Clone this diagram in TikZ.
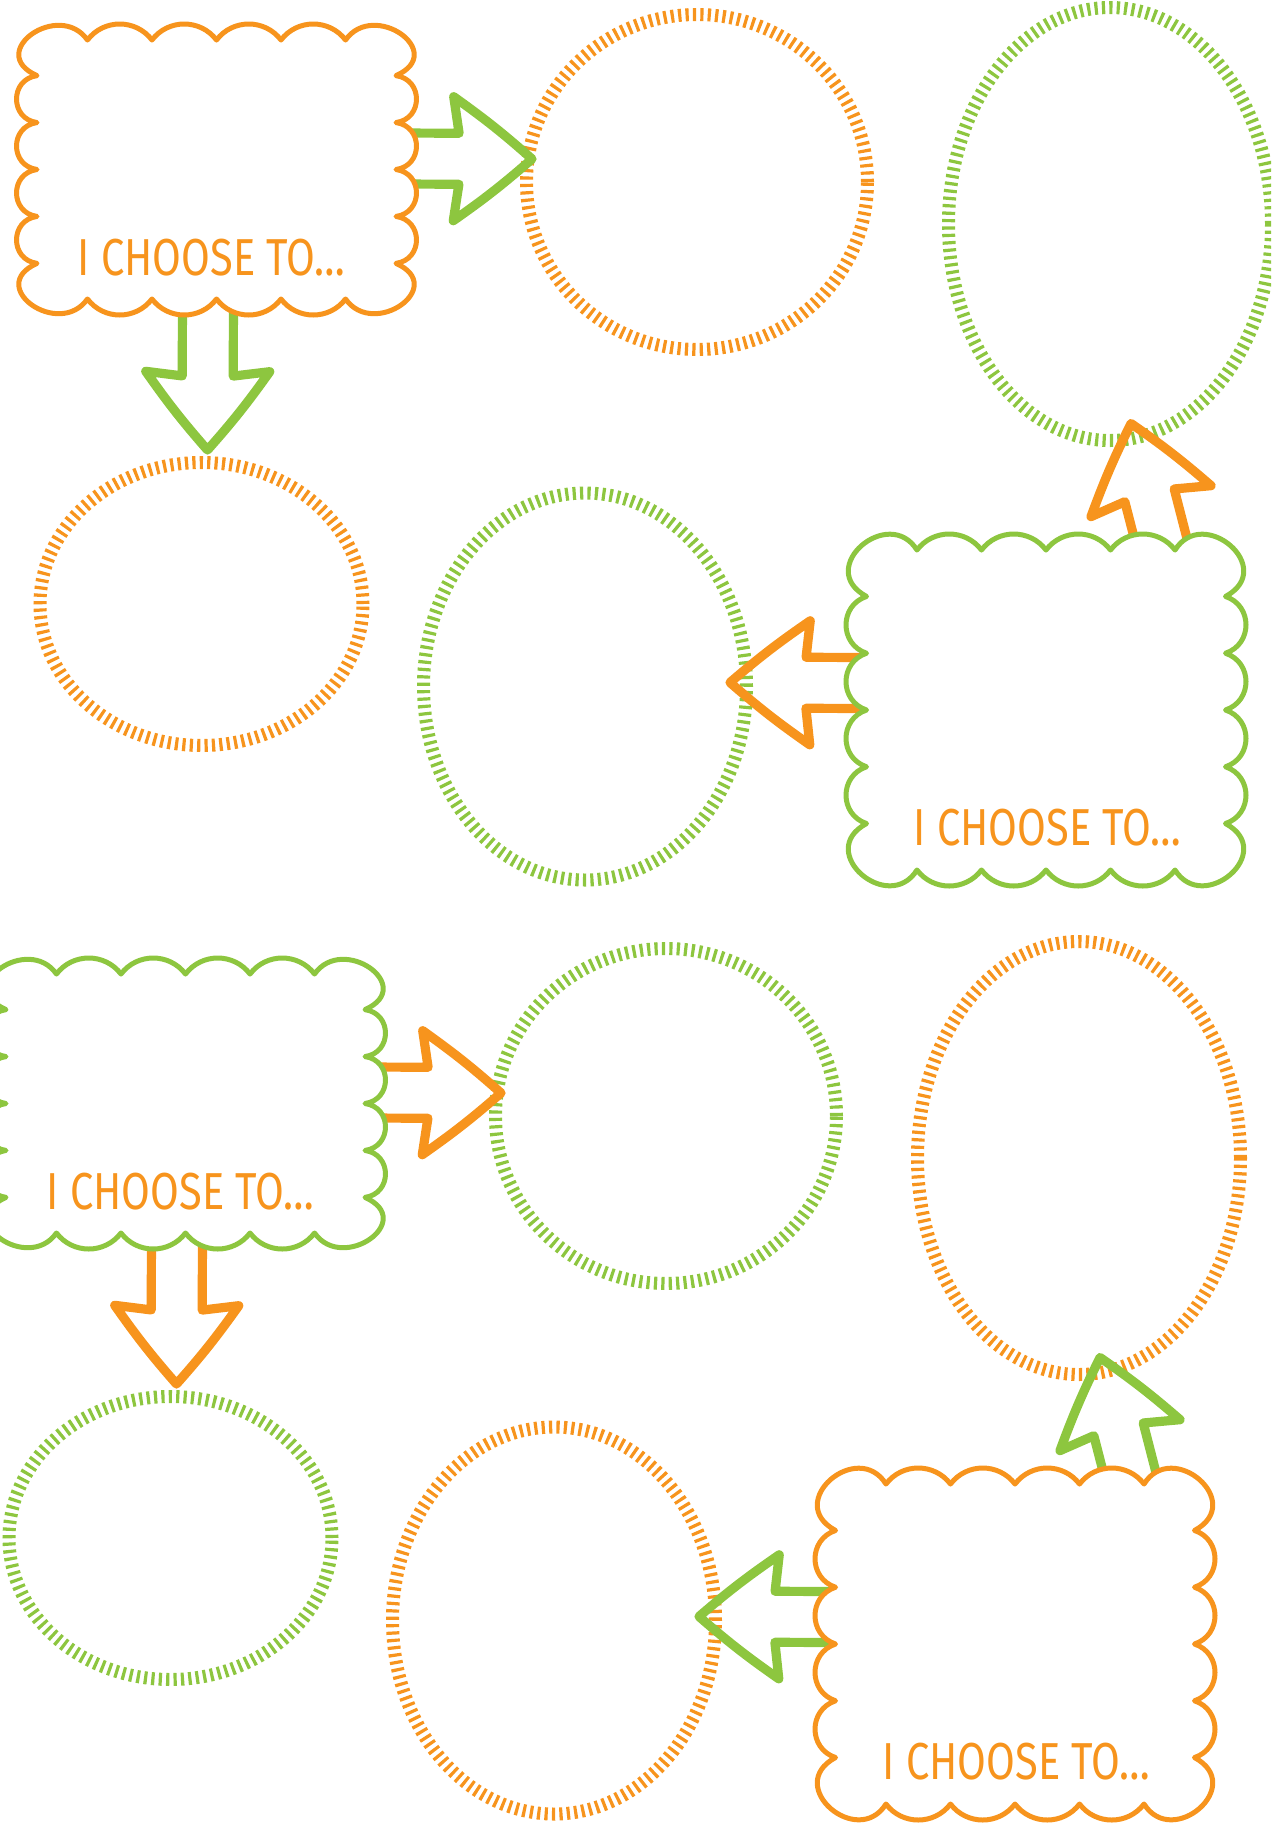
\documentclass[tikz,border=0pt]{standalone}
\usepackage{fontspec}
\newfontfamily\choosefont{Fira Sans}[FakeStretch=0.8]
\usetikzlibrary{calc,shapes.geometric}

\definecolor{orangec}{HTML}{F7941D}
\definecolor{greenc}{HTML}{8DC63F}

\tikzset{
  tickring/.style={ellipse, draw, line width=6.5pt, dash pattern=on 1.6pt off 2.1pt, inner sep=0pt, outer sep=0pt},
  arrowline/.style={line width=4.6pt, line cap=round, line join=round},
  boxline/.style={line width=2.5pt, fill=white, line join=round},
  choosetext/.style={font=\choosefont\fontsize{26}{26}\selectfont, text=orangec, inner sep=0pt, anchor=base}
}

% handles of one bump: chord #1, height #2 -> along #3, out #4
\newcommand{\bumphandle}[4]{%
  \pgfmathsetmacro{\br}{(#1*#1/4+#2*#2)/(2*#2)}%
  \pgfmathsetmacro{\ba}{asin(#1/(2*\br))}%
  \pgfmathsetmacro{\bk}{4/3*tan(\ba/2)*\br}%
  \pgfmathsetmacro{#3}{\bk*cos(\ba)}%
  \pgfmathsetmacro{#4}{\bk*sin(\ba)}}

% scalloped box: colour, left, top, width, height
\newcommand{\scallop}[5]{%
  \pgfmathsetmacro{\bmh}{#4/6.2}%
  \pgfmathsetmacro{\bch}{1.1*\bmh}%
  \pgfmathsetmacro{\bmv}{#5/6.2}%
  \pgfmathsetmacro{\bcv}{1.1*\bmv}%
  \bumphandle{\bmh}{16}{\bth}{\bnh}%
  \bumphandle{\bmv}{20.5}{\btv}{\bnv}%
  \draw[boxline, draw=#1] ({#2+\bch},{#3+16})
    \foreach \i in {0,...,3}{
      .. controls ({#2+\bch+\i*\bmh+\bth},{#3+16-\bnh}) and ({#2+\bch+(\i+1)*\bmh-\bth},{#3+16-\bnh}) .. ({#2+\bch+(\i+1)*\bmh},{#3+16})}
    .. controls ({#2+#4-0.6*\bch},{#3-0.47*\bcv}) and ({#2+#4+0.45*\bch},{#3+0.55*\bcv}) .. ({#2+#4-20.5},{#3+\bcv})
    \foreach \i in {0,...,3}{
      .. controls ({#2+#4-20.5+\bnv},{#3+\bcv+\i*\bmv+\btv}) and ({#2+#4-20.5+\bnv},{#3+\bcv+(\i+1)*\bmv-\btv}) .. ({#2+#4-20.5},{#3+\bcv+(\i+1)*\bmv})}
    .. controls ({#2+#4+0.45*\bch},{#3+#5-0.55*\bcv}) and ({#2+#4-0.6*\bch},{#3+#5+0.47*\bcv}) .. ({#2+#4-\bch},{#3+#5-16})
    \foreach \i in {3,2,1,0}{
      .. controls ({#2+\bch+(\i+1)*\bmh-\bth},{#3+#5-16+\bnh}) and ({#2+\bch+\i*\bmh+\bth},{#3+#5-16+\bnh}) .. ({#2+\bch+\i*\bmh},{#3+#5-16})}
    .. controls ({#2+0.6*\bch},{#3+#5+0.47*\bcv}) and ({#2-0.45*\bch},{#3+#5-0.55*\bcv}) .. ({#2+20.5},{#3+#5-\bcv})
    \foreach \i in {3,2,1,0}{
      .. controls ({#2+20.5-\bnv},{#3+\bcv+(\i+1)*\bmv-\btv}) and ({#2+20.5-\bnv},{#3+\bcv+\i*\bmv+\btv}) .. ({#2+20.5},{#3+\bcv+\i*\bmv})}
    .. controls ({#2-0.45*\bch},{#3+0.55*\bcv}) and ({#2+0.6*\bch},{#3-0.47*\bcv}) .. ({#2+\bch},{#3+16}) -- cycle;
}

% open block arrow: colour, from, to, shaft length, head corner
\newcommand{\choosearrow}[5]{%
  \coordinate (shaftend) at ($(#2)!#4!(#3)$);
  \coordinate (headbase) at ($(#2)!#5!(#3)$);
  \draw[arrowline, draw=#1]
    ($(#2)!12.75pt!90:(#3)$) -- ($(shaftend)!12.75pt!90:(#3)$)
    -- ($(headbase)!31pt!90:(#3)$) to[bend left=3] (#3)
    to[bend left=3] ($(headbase)!31pt!-90:(#3)$)
    -- ($(shaftend)!12.75pt!-90:(#3)$) -- ($(#2)!12.75pt!-90:(#3)$);
}

\begin{document}
\begin{tikzpicture}[x=0.5pt, y=-0.5pt]
  \useasboundingbox (0,0) rectangle (1271,1832);
  \clip (0,0) rectangle (1271,1832);
  % two halves, colours swapped
  \foreach \hf/\cone/\ctwo/\dx/\dy in {t/orangec/greenc/0/0, b/greenc/orangec/-31/934}{
    \begin{scope}[shift={(\dx,\dy)}]
      \node[tickring, draw=\cone, minimum width=170.5pt, minimum height=167.5pt] (\hf ringA) at (697,182) {};
      \node[tickring, draw=\cone, minimum width=161.5pt, minimum height=141.5pt] (\hf ringC) at (201.5,604) {};
      \node[tickring, draw=\ctwo, minimum width=161.5pt, minimum height=216.5pt] (\hf ringB) at (1110,224) {};
      \node[tickring, draw=\ctwo, minimum width=161.5pt, minimum height=193.5pt] (\hf ringD) at (585,686.5) {};

      \coordinate (\hf outA) at (394.5,158.5);
      \coordinate (\hf inA) at (532,159);
      \coordinate (\hf outC) at (208,293);
      \coordinate (\hf inC) at (207.5,450);
      \coordinate (\hf outD) at (868,683);
      \coordinate (\hf inD) at (730,682.5);
      \coordinate (\hf outB) at (1165.5,557.3);
      \coordinate (\hf inB) at (1131,423.5);

      \choosearrow{\ctwo}{\hf outA}{\hf inA}{32.25pt}{29.5pt}
      \choosearrow{\ctwo}{\hf outC}{\hf inC}{41.5pt}{39.25pt}
      \choosearrow{\cone}{\hf outD}{\hf inD}{31pt}{29pt}
      \choosearrow{\cone}{\hf outB}{\hf inB}{32pt}{29pt}

      \scallop{\cone}{16.5}{24}{400}{291}
      \scallop{\ctwo}{846}{534}{400}{352}

      \node[choosetext] (\hf labelone) at (211.5,275) {I CHOOSE TO\ldots};
      \node[choosetext] (\hf labeltwo) at (1047.5,845.5) {I CHOOSE TO\ldots};
    \end{scope}
  }
\end{tikzpicture}
\end{document}
